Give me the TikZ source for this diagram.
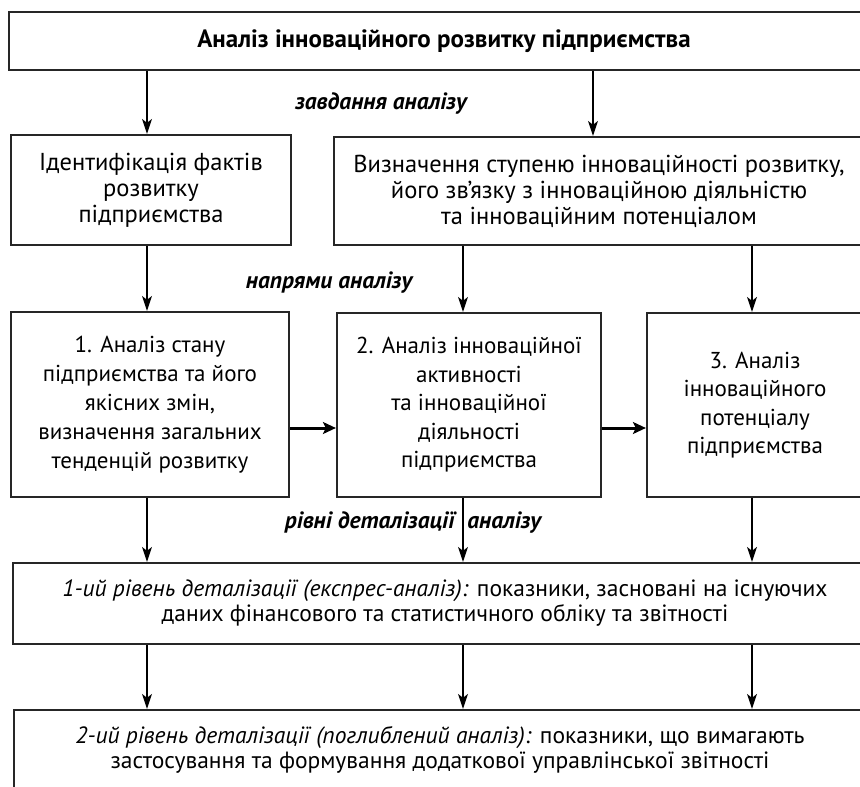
\documentclass[tikz,border=0pt]{standalone}
\usepackage{fontspec}
\setmainfont{PT Sans}
\usetikzlibrary{arrows.meta}
\tikzstyle{box}=[rectangle, draw=black!85, line width=2.2pt, inner sep=0pt, align=center, anchor=center, fill=white]
\tikzstyle{annot}=[align=center, inner sep=0pt, font=\fontsize{23.5}{26}\selectfont\bfseries\itshape]
\tikzstyle{arr}=[line width=1.1pt, -{Stealth[length=15pt,width=10pt,inset=4pt]}]
\tikzstyle{thickarr}=[line width=3pt, -{Stealth[length=13pt,width=12pt,inset=3pt]}]

\begin{document}
\begin{tikzpicture}[x=1pt,y=-1pt]
	\useasboundingbox (0,0) rectangle (860,787);
	\clip (0,0) rectangle (860,787);

	% columns and rows of the arrows
	\coordinate (xa) at (147,0);
	\coordinate (xb) at (463,0);
	\coordinate (xc) at (752,0);
	\coordinate (xd) at (593,0);
	\coordinate (ya) at (0,428);

	\node[box, minimum width=870pt, minimum height=58pt, font=\fontsize{25}{26}\selectfont\bfseries](top) at (444,41){Аналіз інноваційного розвитку підприємства};

	\node[box, minimum width=280pt, minimum height=110pt, font=\fontsize{24.5}{26}\selectfont](ident) at (151,190){Ідентифікація фактів\\розвитку\\підприємства};
	\node[box, minimum width=530pt, minimum height=108pt, font=\fontsize{24.5}{26}\selectfont](vyzn) at (599,191){Визначення ступеню інноваційності розвитку,\\його зв'язку з інноваційною діяльністю\\та інноваційним потенціалом};

	\node[box, minimum width=278pt, minimum height=185pt, font=\fontsize{23}{29}\selectfont](napr1) at (150,404.5){1. Аналіз стану\\підприємства та його\\якісних змін,\\визначення загальних\\тенденцій розвитку};
	\node[box, minimum width=264pt, minimum height=184pt, font=\fontsize{23}{28.5}\selectfont](napr2) at (469,405){2. Аналіз інноваційної\\активності\\та інноваційної\\діяльності\\підприємства};
	\node[box, minimum width=216pt, minimum height=184pt, font=\fontsize{23}{28.5}\selectfont](napr3) at (755,405){3. Аналіз\\інноваційного\\потенціалу\\підприємства};

	\node[box, minimum width=864pt, minimum height=81pt, font=\fontsize{23.5}{25}\selectfont](riven1) at (445,603.5){\textit{1-ий рівень деталізації (експрес-аналіз):} показники, засновані на існуючих\\даних фінансового та статистичного обліку та звітності};
	\node[box, minimum width=852pt, minimum height=80pt, font=\fontsize{23.5}{25}\selectfont](riven2) at (440,750){\textit{2-ий рівень деталізації (поглиблений аналіз):} показники, що вимагають\\застосування та формування додаткової управлінської звітності};

	\node[annot](zavd) at (381,103){завдання аналізу};
	\node[annot](napr) at (329,283){напрями аналізу};
	\node[annot](rivni) at (413,522){рівні деталізації\hspace{12pt}аналізу};

	\draw[arr] (xa |- top.south) -- (xa |- ident.north);
	\draw[arr] (xd |- top.south) -- (xd |- vyzn.north);

	\draw[arr] (xa |- ident.south) -- (xa |- napr1.north);
	\draw[arr] (xb |- vyzn.south) -- (xb |- napr2.north);
	\draw[arr] (xc |- vyzn.south) -- (xc |- napr3.north);

	\draw[thickarr] (napr1.east |- ya) -- (napr2.west |- ya);
	\draw[thickarr] (napr2.east |- ya) -- (napr3.west |- ya);

	\draw[arr] (xa |- napr1.south) -- (xa |- riven1.north);
	\draw[arr] (xb |- napr2.south) -- (xb |- riven1.north);
	\draw[arr] (xc |- napr3.south) -- (xc |- riven1.north);

	\draw[arr] (xa |- riven1.south) -- (xa |- riven2.north);
	\draw[arr] (xb |- riven1.south) -- (xb |- riven2.north);
	\draw[arr] (xc |- riven1.south) -- (xc |- riven2.north);

\end{tikzpicture}
\end{document}
